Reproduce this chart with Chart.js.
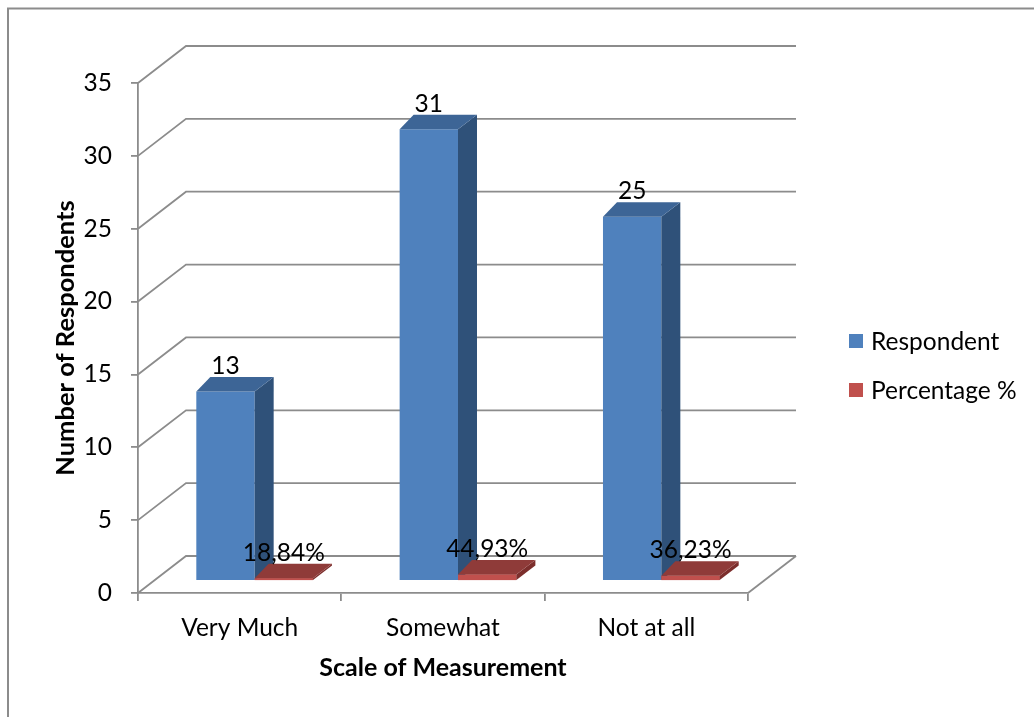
<!DOCTYPE html>
<html>
<head>
<meta charset="utf-8">
<title>Scale of Measurement</title>
<script src="https://cdn.jsdelivr.net/npm/chart.js@4.4.1/dist/chart.umd.min.js"></script>
<style>
  html, body { margin: 0; padding: 0; background: #fff; }
  #wrap { width: 1034px; height: 717px; }
</style>
</head>
<body>
<div id="wrap"><canvas id="scaleChart" width="1034" height="717"></canvas></div>
<script>
const categories = ['Very Much', 'Somewhat', 'Not at all'];
const respondents = [13, 31, 25];
const percentages = [0.1884, 0.4493, 0.3623];
const seriesNames = ['Respondent', 'Percentage %'];
const yMin = 0, yMax = 35, yStep = 5;

const FONT = 'Lato';
const FONT_SIZE = 24.5;
const TITLE_SIZE = 25.5;
const LINE = '#8c8c8c';

// back wall sits behind the front axis plane
const WALL = { dx: 48, dy: -37 };
// bars stand a little way into the floor
const BAR_SHIFT = { dx: 15, dy: -12 };
// depth of each bar (top/side faces)
const DEPTH = { dxL: 14, dxR: 19, dy: -14.5 };

function fmtPct(v) {
  return (v * 100).toFixed(2).replace('.', ',') + '%';
}

const plot3d = {
  id: 'plot3d',
  beforeDraw(chart) {
    const ctx = chart.ctx;
    ctx.save();
    ctx.strokeStyle = LINE;
    ctx.lineWidth = 2;
    ctx.beginPath();
    ctx.moveTo(8, chart.height);
    ctx.lineTo(8, 8.5);
    ctx.lineTo(chart.width, 8.5);
    ctx.stroke();
    ctx.restore();
  },
  beforeDatasetsDraw(chart) {
    const { ctx, chartArea: a, scales: { y } } = chart;
    ctx.save();
    ctx.strokeStyle = LINE;
    ctx.lineWidth = 1.8;
    y.ticks.forEach(t => {
      const py = y.getPixelForValue(t.value);
      ctx.beginPath();
      ctx.moveTo(a.left, py);
      ctx.lineTo(a.left + WALL.dx, py + WALL.dy);
      ctx.lineTo(a.right + WALL.dx, py + WALL.dy);
      ctx.stroke();
    });
    // right edge of the floor
    ctx.beginPath();
    ctx.moveTo(a.right, a.bottom);
    ctx.lineTo(a.right + WALL.dx, a.bottom + WALL.dy);
    ctx.stroke();
    ctx.restore();

    ctx.save();
    ctx.translate(BAR_SHIFT.dx, BAR_SHIFT.dy);
  },
  afterDatasetsDraw(chart) {
    const ctx = chart.ctx;
    chart.data.datasets.forEach((ds, di) => {
      const meta = chart.getDatasetMeta(di);
      meta.data.forEach(bar => {
        const { x, y, base, width } = bar.getProps(['x', 'y', 'base', 'width'], true);
        const l = x - width / 2, r = x + width / 2;
        // later series sit in front of the earlier bar's side face
        if (di > 0) {
          ctx.fillStyle = ds.backgroundColor;
          ctx.fillRect(l, y, width, base - y);
        }
        ctx.fillStyle = ds.sideColor;
        ctx.beginPath();
        ctx.moveTo(r, y);
        ctx.lineTo(r + DEPTH.dxR, y + DEPTH.dy);
        ctx.lineTo(r + DEPTH.dxR, base + DEPTH.dy);
        ctx.lineTo(r, base);
        ctx.closePath();
        ctx.fill();
        ctx.fillStyle = ds.topColor;
        ctx.beginPath();
        ctx.moveTo(l, y);
        ctx.lineTo(r, y);
        ctx.lineTo(r + DEPTH.dxR, y + DEPTH.dy);
        ctx.lineTo(l + DEPTH.dxL, y + DEPTH.dy);
        ctx.closePath();
        ctx.fill();
      });
    });

    // value labels above each bar
    ctx.fillStyle = '#000';
    ctx.font = FONT_SIZE + 'px ' + FONT;
    ctx.textAlign = 'center';
    ctx.textBaseline = 'alphabetic';
    chart.data.datasets.forEach((ds, di) => {
      const meta = chart.getDatasetMeta(di);
      meta.data.forEach((bar, i) => {
        const v = ds.data[i];
        const txt = di === 0 ? String(v) : fmtPct(v);
        ctx.fillText(txt, bar.x, bar.y + DEPTH.dy - 3);
      });
    });
    ctx.restore();
  },
  afterDraw(chart) {
    // legend on the right
    const ctx = chart.ctx;
    const lx = 849, rows = [341, 390];
    ctx.save();
    ctx.font = FONT_SIZE + 'px ' + FONT;
    ctx.textAlign = 'left';
    ctx.textBaseline = 'middle';
    chart.data.datasets.forEach((ds, di) => {
      const cy = rows[di];
      ctx.fillStyle = ds.backgroundColor;
      ctx.fillRect(lx, cy - 7, 14, 14);
      ctx.fillStyle = '#000';
      ctx.fillText(ds.label, lx + 22, cy + 1);
    });
    ctx.restore();
  }
};

const ctx = document.getElementById('scaleChart').getContext('2d');
const scaleChart = new Chart(ctx, {
  type: 'bar',
  data: {
    labels: categories,
    datasets: [
      {
        label: seriesNames[0],
        data: respondents,
        backgroundColor: '#4f81bd',
        sideColor: '#2f5179',
        topColor: '#3d6596',
        clip: false
      },
      {
        label: seriesNames[1],
        data: percentages,
        backgroundColor: '#c0504d',
        sideColor: '#7c2e2c',
        topColor: '#8f3b39',
        clip: false
      }
    ]
  },
  options: {
    responsive: false,
    animation: false,
    layout: { padding: { left: 0, top: 83, right: 286, bottom: 0 } },
    datasets: {
      bar: { categoryPercentage: 0.574, barPercentage: 1, borderWidth: 0 }
    },
    plugins: {
      legend: { display: false },
      tooltip: { enabled: false }
    },
    scales: {
      x: {
        afterFit: s => { s.height = 124; },
        grid: { offset: true, drawOnChartArea: false, tickLength: 8, color: LINE, lineWidth: 1.8 },
        border: { color: LINE, width: 1.8 },
        ticks: { color: '#000', padding: 12, font: { family: FONT, size: FONT_SIZE } },
        title: {
          display: true,
          text: 'Scale of Measurement',
          color: '#000',
          font: { family: FONT, size: TITLE_SIZE - 0.5, weight: 'bold' },
          padding: { top: 0, bottom: 34 }
        }
      },
      y: {
        min: yMin,
        max: yMax,
        afterFit: s => { s.width = 138; },
        grid: { drawOnChartArea: false, tickLength: 7, color: LINE, lineWidth: 1.8 },
        border: { color: LINE, width: 1.8 },
        ticks: { stepSize: yStep, color: '#000', padding: 19, font: { family: FONT, size: FONT_SIZE } },
        title: {
          display: true,
          text: 'Number of Respondents',
          color: '#000',
          font: { family: FONT, size: TITLE_SIZE, weight: 'bold' },
          padding: { top: 50, bottom: 0 }
        }
      }
    }
  },
  plugins: [plot3d]
});
</script>
</body>
</html>
